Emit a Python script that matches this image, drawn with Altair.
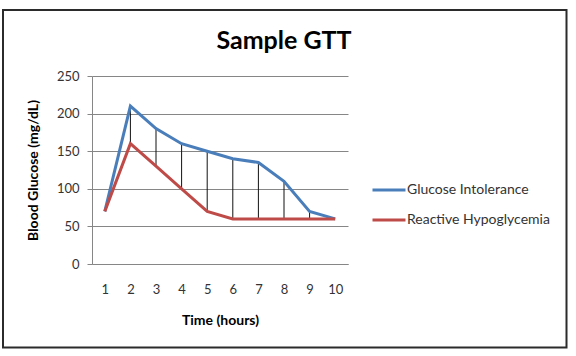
import altair as alt
import pandas as pd

hours = [1, 2, 3, 4, 5, 6, 7, 8, 9, 10]
glucose_intolerance = [70, 210, 180, 160, 150, 140, 135, 110, 70, 60]
reactive_hypoglycemia = [70, 160, 130, 100, 70, 60, 60, 60, 60, 60]
series_names = ["Glucose Intolerance", "Reactive Hypoglycemia"]
series_colors = ["#4A7EBB", "#BE4B48"]
drop_hours = [2, 3, 4, 5, 6, 7, 8, 9]
y_ticks = [0, 50, 100, 150, 200, 250]

FONT = "Lato"

rows = []
for h, g, r in zip(hours, glucose_intolerance, reactive_hypoglycemia):
    rows.append({"hour": str(h), "value": g, "series": series_names[0]})
    rows.append({"hour": str(h), "value": r, "series": series_names[1]})
long_df = pd.DataFrame(rows)

drop_df = pd.DataFrame({
    "hour": [str(h) for h in hours],
    "hi": glucose_intolerance,
    "lo": reactive_hypoglycemia,
})
drop_df = drop_df[drop_df["hour"].isin([str(h) for h in drop_hours])]

hour_order = [str(h) for h in hours]
x_scale = alt.Scale(type="point", padding=0.5, domain=hour_order)
y_scale = alt.Scale(domain=[0, 250], nice=False)

x_axis = alt.Axis(
    title="Time (hours)",
    labelAngle=0,
    ticks=False,
    tickSize=0,
    labelPadding=25,
    labelBaseline="middle",
    labelFont=FONT,
    labelFontSize=13,
    labelColor="#333333",
    labelOverlap=False,
    domain=True,
    domainColor="#868686",
    grid=False,
    titleFont=FONT,
    titleFontSize=14,
    titleFontWeight="bold",
    titleColor="#000000",
    titleY=56,
    titleBaseline="middle",
)

y_axis = alt.Axis(
    title="Blood Glucose (mg/dL)",
    values=y_ticks,
    labelOverlap=False,
    tickSize=5,
    tickColor="#868686",
    labelPadding=8,
    labelFont=FONT,
    labelFontSize=13,
    labelColor="#333333",
    domainColor="#868686",
    gridColor="#868686",
    gridWidth=1,
    gridOpacity=1,
    titleFont=FONT,
    titleFontSize=14,
    titleFontWeight="bold",
    titleColor="#000000",
    titleAngle=270,
    titleX=-59,
    titleY=94,
    titleAlign="center",
    titleBaseline="middle",
)

lines = alt.Chart(long_df).mark_line(strokeWidth=3).encode(
    x=alt.X("hour:N", sort=hour_order, scale=x_scale, axis=x_axis),
    y=alt.Y("value:Q", scale=y_scale, axis=y_axis),
    color=alt.Color(
        "series:N",
        scale=alt.Scale(domain=series_names, range=series_colors),
        legend=alt.Legend(
            title=None,
            orient="none",
            legendX=279,
            legendY=96,
            symbolType="stroke",
            symbolSize=1089,
            symbolStrokeWidth=3,
            labelOffset=0,
            labelFont=FONT,
            labelFontSize=14,
            labelColor="#333333",
            rowPadding=5,
            padding=0,
        ),
    ),
)

drops = alt.Chart(drop_df).mark_rule(color="#111111", strokeWidth=1).encode(
    x=alt.X("hour:N", sort=hour_order, scale=x_scale, axis=x_axis),
    y=alt.Y("hi:Q", scale=y_scale, axis=y_axis),
    y2="lo:Q",
)

frame = alt.Chart(pd.DataFrame({"k": [0]})).mark_rect(
    fill=None, stroke="#2b2b2b", strokeWidth=2
).encode(
    x=alt.value(-89),
    x2=alt.value(474.5),
    y=alt.value(-66),
    y2=alt.value(271.5),
)

chart = alt.layer(drops, lines, frame).properties(
    width=256,
    height=188,
    background="white",
    padding={"left": 92, "top": 76, "right": 228, "bottom": 92},
    autosize=alt.AutoSizeParams(type="none"),
    title=alt.TitleParams(
        text="Sample GTT",
        font=FONT,
        fontSize=25,
        fontWeight="bold",
        color="#000000",
        anchor="middle",
        frame="group",
        dx=64,
        baseline="alphabetic",
        offset=-65,
    ),
).configure_view(stroke="transparent", strokeWidth=0)

chart.save("out.html", embed_options={"renderer": "svg", "actions": False})
